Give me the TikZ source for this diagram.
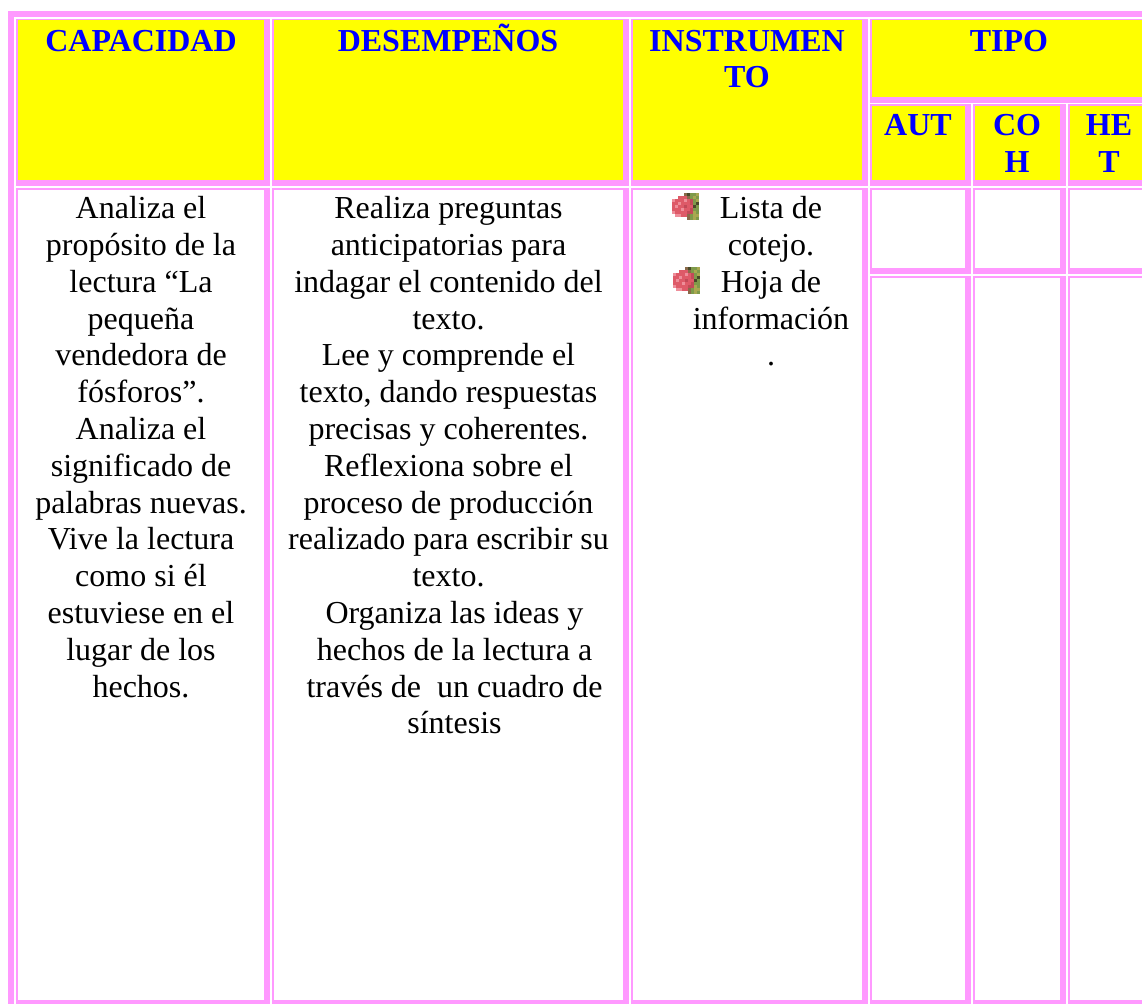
\documentclass[tikz,border=0pt]{standalone}
\usepackage{fontspec}
\setmainfont{Liberation Serif}
\definecolor{tbpink}{HTML}{FF99FF}
\definecolor{tbyellow}{HTML}{FFFF00}
\definecolor{tbblue}{HTML}{0000FF}
\definecolor{fw}{HTML}{FFFFFF}
\definecolor{fr}{HTML}{DE5A68}
\definecolor{fp}{HTML}{EE8E9A}
\definecolor{fd}{HTML}{C24A58}
\definecolor{fg}{HTML}{7E9A4A}
\definecolor{fo}{HTML}{A8A850}
\definecolor{fk}{HTML}{4A4A2A}
\definecolor{fb}{HTML}{8A6A4A}
\newcommand{\tbrule}{\rule{0pt}{24pt}}
\newcommand{\tbcell}[5]{%
  \fill[tbpink] (#1,#2) rectangle (#3,#4);
  \fill[#5] (#1+2,#2+2) rectangle (#3-6,#4-6);}
\tikzset{
  x=1pt,y=-1pt,
  headtxt/.style={anchor=north,inner sep=0pt,align=center,text=tbblue,font=\fontsize{32}{36.8}\selectfont\bfseries},
  bodytxt/.style={anchor=north,inner sep=0pt,align=center,text=black,font=\fontsize{32}{36.8}\selectfont},
  flower/.pic={
    \foreach \rowlist [count=\j from 0] in {
      {fw,fw,fw,fw,fb,fk,fg,fg,fo},
      {fw,fw,fr,fr,fr,fb,fg,fo,fg},
      {fp,fr,fr,fr,fp,fr,fd,fg,fo},
      {fr,fr,fp,fr,fr,fr,fd,fg,fk},
      {fr,fp,fr,fr,fd,fr,fr,fk,fg},
      {fr,fr,fr,fp,fr,fr,fd,fg,fg},
      {fp,fr,fr,fr,fr,fd,fd,fo,fg},
      {fw,fp,fp,fr,fr,fb,fg,fo,fo},
      {fw,fw,fw,fw,fw,fb,fg,fo,fg}}{
      \foreach \c [count=\i from 0] in \rowlist {
        \fill[\c] (\i*3,\j*3) rectangle +(3,3);
      }
    }
  }
}
\begin{document}
\begin{tikzpicture}
\clip (0,0) rectangle (1142,1003);
\fill[white] (0,0) rectangle (1142,1003);
% outer table border
\fill[tbpink] (8,11) rectangle (1160,1020);
\fill[white] (14,17) rectangle (1160,1020);
% header row
\fill[tbpink] (16,19) rectangle (270,186); \fill[tbyellow] (18,20) rectangle (264,180);
\fill[tbpink] (272,19) rectangle (629,186); \fill[tbyellow] (274,20) rectangle (623,180);
\fill[tbpink] (631,19) rectangle (868,186); \fill[tbyellow] (633,20) rectangle (862,180);
\fill[tbpink] (870,19) rectangle (1160,103); \fill[tbyellow] (872,20) rectangle (1160,97);
\tbcell{870}{104}{971}{186}{tbyellow}
\tbcell{973}{104}{1066}{186}{tbyellow}
\tbcell{1068}{104}{1160}{186}{tbyellow}
% body row
\tbcell{16}{188}{270}{1006}{white}
\tbcell{272}{188}{629}{1006}{white}
\tbcell{631}{188}{868}{1006}{white}
\tbcell{870}{188}{971}{274}{white}
\tbcell{973}{188}{1066}{274}{white}
\tbcell{1068}{188}{1160}{274}{white}
\tbcell{870}{276}{971}{1006}{white}
\tbcell{973}{276}{1066}{1006}{white}
\tbcell{1068}{276}{1160}{1006}{white}
% header text
\node[headtxt] (hcap) at (141,27) {\tbrule CAPACIDAD};
\node[headtxt] (hdes) at (448,27) {\tbrule\smash{DESEMPEÑOS}};
\node[headtxt] (hins) at (747,27) {\tbrule INSTRUMEN\\TO};
\node[headtxt] (htip) at (1009,27) {\tbrule TIPO};
\node[headtxt] (haut) at (918,111) {\tbrule AUT};
\node[headtxt] (hcoh) at (1017,111) {\tbrule CO\\H};
\node[headtxt] (hhet) at (1109,111) {\tbrule HE\\T};
% body text
\node[bodytxt] (bcap) at (141,194.5) {\tbrule Analiza el\\propósito de la\\lectura “La\\pequeña\\vendedora de\\fósforos”.\\Analiza el\\significado de\\palabras nuevas.\\Vive la lectura\\como si él\\estuviese en el\\lugar de los\\hechos.};
\node[bodytxt] (bdes) at (448.5,194.5) {\tbrule Realiza preguntas\\anticipatorias para\\indagar el contenido del\\texto.\\Lee y comprende el\\texto, dando respuestas\\precisas y coherentes.\\Reflexiona sobre el\\proceso de producción\\realizado para escribir su\\texto.};
\node[bodytxt] (bdes2) at (454.5,599.3) {\tbrule Organiza las ideas y\\hechos de la lectura a\\través de\ \ un cuadro de\\síntesis};
\node[bodytxt] (bins) at (771,194.5) {\tbrule Lista de\\cotejo.\\Hoja de\\información\\.};
\pic at (672,193) {flower};
\pic at (673,267) {flower};
\end{tikzpicture}
\end{document}
